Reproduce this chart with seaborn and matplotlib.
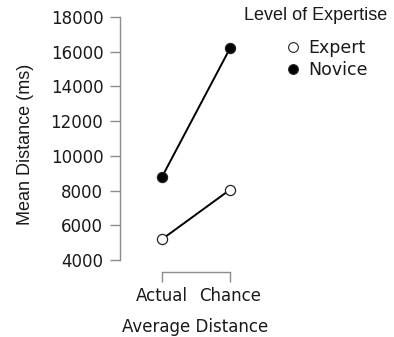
import pandas as pd
import seaborn as sns
import matplotlib.pyplot as plt
from matplotlib.lines import Line2D

conditions = ['Actual', 'Chance']
expert = [5200, 8050]
novice = [8800, 16200]
groups = ['Expert', 'Novice']
yticks = [4000, 6000, 8000, 10000, 12000, 14000, 16000, 18000]

df = pd.DataFrame({
    'Average Distance': conditions * 2,
    'Mean Distance (ms)': expert + novice,
    'Level of Expertise': [groups[0]] * 2 + [groups[1]] * 2,
})

sns.set_style('white')
plt.rcParams['font.family'] = ['DejaVu Sans']

fig = plt.figure(figsize=(3.94, 3.37), dpi=100)
ax = fig.add_axes([120 / 394, (337 - 272) / 337, 150 / 394, (272 - 17) / 337])

fills = {'Expert': 'white', 'Novice': 'black'}
for g in groups:
    sub = df[df['Level of Expertise'] == g]
    sns.lineplot(data=sub, x='Average Distance', y='Mean Distance (ms)', ax=ax,
                 color='black', lw=1.4, marker='o', markersize=7.3,
                 markerfacecolor=fills[g], markeredgecolor='#222222',
                 markeredgewidth=0.9, zorder=3)

ax.set_xlim(-0.62, (270 - 162) / 68)
ax.set_ylim(4000 - 12 / 17.36 * 1000, 18000)
ax.set_yticks(yticks)
ax.set_yticklabels([str(v) for v in yticks], fontsize=12, color='#1a1a1a')
ax.set_xticks([0, 1])
ax.set_xticklabels(conditions, fontsize=12, color='#1a1a1a')

for s in ['top', 'right']:
    ax.spines[s].set_visible(False)
for s in ['left', 'bottom']:
    ax.spines[s].set_color('#8c8c8c')
    ax.spines[s].set_linewidth(1.0)
ax.spines['left'].set_bounds(4000, 18000)
ax.spines['bottom'].set_bounds(0, 1)
ax.tick_params(axis='y', which='both', direction='out', length=7,
               color='#8c8c8c', width=1.0, left=True, pad=5)
ax.tick_params(axis='x', which='both', direction='out', length=7,
               color='#8c8c8c', width=1.0, bottom=True, pad=3.5)

ax.set_ylabel('Mean Distance (ms)', fontsize=13, family='Liberation Sans',
              color='#1a1a1a', labelpad=12)
ax.set_xlabel('Average Distance', fontsize=12, color='#1a1a1a', labelpad=9.5)

fig.text(316 / 394, 1 - 16 / 337, 'Level of Expertise', ha='center', va='center',
         fontsize=13, family='Liberation Sans', color='#1a1a1a')

handles = [Line2D([], [], ls='none', marker='o', markersize=7,
                  markerfacecolor=fills[g], markeredgecolor='#222222',
                  markeredgewidth=0.8) for g in groups]
leg = fig.legend(handles, groups, loc='upper left',
                 bbox_to_anchor=(286 / 394, 1 - 39 / 337), frameon=False,
                 fontsize=12.5, handletextpad=0.5, handlelength=0.8,
                 labelspacing=0.25, borderpad=0, borderaxespad=0)
for t in leg.get_texts():
    t.set_color('#1a1a1a')

fig.savefig('out.png', dpi=100)
